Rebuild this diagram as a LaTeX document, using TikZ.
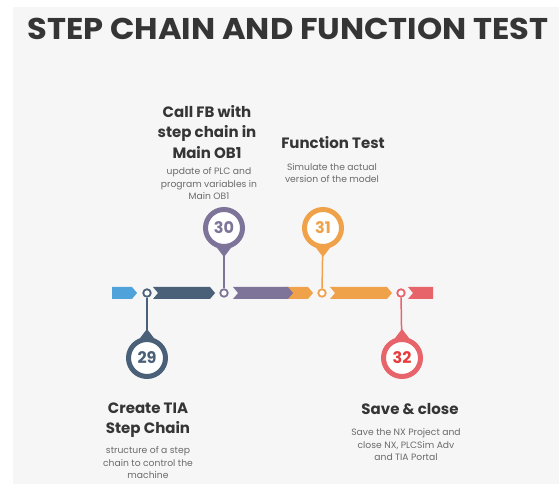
\documentclass[tikz,border=0pt]{standalone}
\usepackage{fontspec}
\setmainfont{Poppins}
\usepackage{tikz}
\usetikzlibrary{calc}
\definecolor{tlblue}{HTML}{4FA3DA}
\definecolor{tlslate}{HTML}{4A5F78}
\definecolor{tlpurple}{HTML}{7E7399}
\definecolor{tlorange}{HTML}{F0A24A}
\definecolor{tlred}{HTML}{E8646B}
\definecolor{tlnum}{HTML}{E53E3E}
\definecolor{tltext}{HTML}{353535}
\definecolor{tlgray}{HTML}{6A6A6A}
\definecolor{tlback}{HTML}{F6F6F6}
\tikzset{
  ring/.style={circle, draw, fill=white, line width=1.8pt, inner sep=0pt, minimum size=7.5pt},
  badge/.style={circle, draw, fill=white, line width=5pt, inner sep=0pt, minimum size=37pt, font=\bfseries\fontsize{16}{16}\selectfont},
  stem/.style={line width=1.5pt},
  head/.style={align=center, text=tltext, font=\bfseries\fontsize{15}{20.5}\selectfont},
  note/.style={align=center, text=tlgray, font=\fontsize{9.2}{12.5}\selectfont},
}

\begin{document}
\begin{tikzpicture}[x=1pt, y=1pt]
  \useasboundingbox (0,0) rectangle (559,484);
  \fill[tlback] (13,0) rectangle (559,477);
  \node[text=tltext, font=\bfseries\fontsize{30}{30}\selectfont] (title) at (288,455) {\scalebox{1.07}[1]{STEP CHAIN AND FUNCTION TEST}};

  \fill[tlblue] (112,185)--(132,185)--(137,191)--(132,197)--(112,197)--cycle;
  \fill[tlslate] (153,185)--(210,185)--(215,191)--(210,197)--(153,197)--(158,191)--cycle;
  \fill[tlorange] (285,185)--(308,185)--(313,191)--(308,197)--(285,197)--(290,191)--cycle;
  \fill[tlpurple] (233,185)--(288,185)--(293,191)--(288,197)--(233,197)--(238,191)--cycle;
  \fill[tlorange] (330,185)--(387,185)--(392,191)--(387,197)--(330,197)--(335,191)--cycle;
  \fill[tlred] (408,185)--(433,185)--(433,197)--(408,197)--(413,191)--cycle;

  \node[badge, draw=tlslate, text=tlslate] (b29) at (147,126) {29};
  \node[badge, draw=tlpurple, text=tlpurple] (b30) at (224,256) {30};
  \node[badge, draw=tlorange, text=tlorange] (b31) at (323,256) {31};
  \node[badge, draw=tlred, text=tlnum] (b32) at (402,126) {32};

  \fill[tlslate] ($(b29)+(120:19)$) .. controls ($(b29)+(100:24)$) .. ($(b29)+(0,29)$) .. controls ($(b29)+(80:24)$) .. ($(b29)+(60:19)$) -- cycle;
  \fill[tlpurple] ($(b30)+(-120:19)$) .. controls ($(b30)+(-100:24)$) .. ($(b30)+(0,-29)$) .. controls ($(b30)+(-80:24)$) .. ($(b30)+(-60:19)$) -- cycle;
  \fill[tlorange] ($(b31)+(-120:19)$) .. controls ($(b31)+(-100:24)$) .. ($(b31)+(0,-29)$) .. controls ($(b31)+(-80:24)$) .. ($(b31)+(-60:19)$) -- cycle;
  \fill[tlred] ($(b32)+(120:19)$) .. controls ($(b32)+(100:24)$) .. ($(b32)+(0,29)$) .. controls ($(b32)+(80:24)$) .. ($(b32)+(60:19)$) -- cycle;

  \node[ring, draw=tlslate] (m29) at (147,191) {};
  \node[ring, draw=tlpurple] (m30) at (224,191) {};
  \node[ring, draw=tlorange] (m31) at (322,191) {};
  \node[ring, draw=tlred] (m32) at (401,191) {};
  \draw[stem, tlslate] (m29) -- (b29);
  \draw[stem, tlpurple] (m30) -- (b30);
  \draw[stem, tlorange] (m31) -- (b31);
  \draw[stem, tlred] (m32) -- (b32);

  \node[head] (h30) at (207,352) {Call FB with\\step chain in\\Main OB1};
  \node[note] (n30) at (209,300) {update of PLC and\\program variables in\\Main OB1};
  \node[head] (h31) at (333,341) {Function Test};
  \node[note] (n31) at (332,311) {Simulate the actual\\version of the model};
  \node[head] (h29) at (148,64) {Create TIA\\Step Chain};
  \node[note] (n29) at (148,21) {structure of a step\\chain to control the\\machine};
  \node[head] (h32) at (410,75) {Save \& close};
  \node[note] (n32) at (406,39) {Save the NX Project and\\close NX, PLCSim Adv\\and TIA Portal};
\end{tikzpicture}
\end{document}
